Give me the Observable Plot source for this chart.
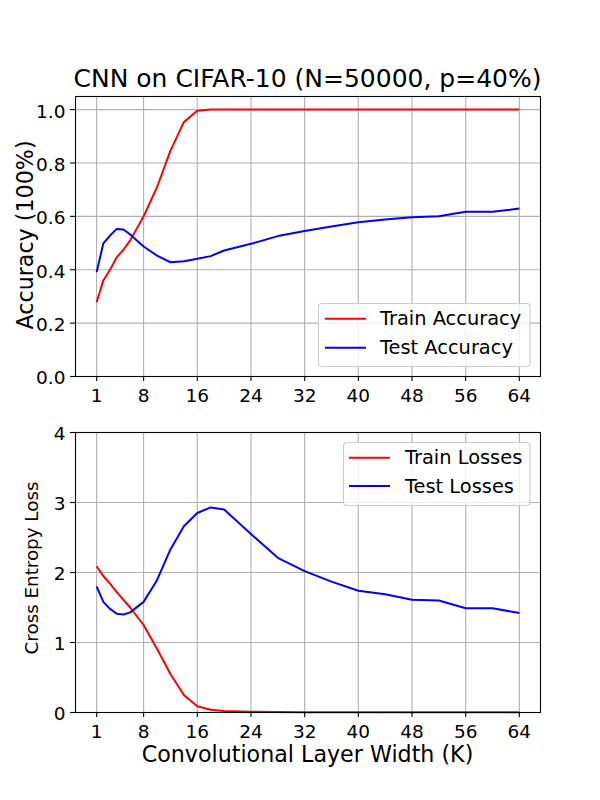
<!DOCTYPE html>
<html>
<head>
<meta charset="utf-8">
<script src="https://cdn.jsdelivr.net/npm/d3@7"></script>
<script src="https://cdn.jsdelivr.net/npm/@observablehq/plot@0.6"></script>
<style>
  html, body { margin: 0; padding: 0; background: white; }
  #wrap { position: relative; width: 600px; height: 800px; background: white; font-family: "DejaVu Sans", sans-serif; }
  #wrap > svg, #wrap > div { position: absolute; }
  #wrap svg, #wrap svg text, #wrap svg g { font-family: "DejaVu Sans", sans-serif !important; }
</style>
</head>
<body>
<div id="wrap"></div>
<script>
const widths = [1,2,3,4,5,6,8,10,12,14,16,18,20,24,28,32,36,40,44,48,52,56,60,64];
const trainAcc = [0.278,0.36,0.40,0.447,0.475,0.51,0.60,0.709,0.846,0.953,0.996,1.0,1.0,1.0,1.0,1.0,1.0,1.0,1.0,1.0,1.0,1.0,1.0,1.0];
const testAcc  = [0.391,0.499,0.528,0.553,0.551,0.532,0.487,0.453,0.428,0.432,0.441,0.451,0.472,0.497,0.526,0.545,0.562,0.578,0.588,0.597,0.600,0.617,0.617,0.629];
const trainLoss = [2.09,1.95,1.84,1.72,1.61,1.50,1.25,0.91,0.55,0.25,0.09,0.04,0.02,0.01,0.006,0.005,0.005,0.004,0.004,0.004,0.004,0.004,0.004,0.004];
const testLoss  = [1.80,1.58,1.48,1.41,1.40,1.43,1.58,1.89,2.33,2.66,2.85,2.93,2.90,2.55,2.21,2.02,1.87,1.74,1.69,1.61,1.60,1.49,1.49,1.42];
const xTicks = [1,8,16,24,32,40,48,56,64];
const accTicks = [0,0.2,0.4,0.6,0.8,1.0];
const lossTicks = [0,1,2,3,4];

const titleText = "CNN on CIFAR-10 (N=50000, p=40%)";
const xLabel = "Convolutional Layer Width (K)";
const accLabel = "Accuracy (100%)";
const lossLabel = "Cross Entropy Loss";
const accSeries = ["Train Accuracy", "Test Accuracy"];
const lossSeries = ["Train Losses", "Test Losses"];
const colors = ["#ff0000", "#0000ff"];

const accData = widths.flatMap((k, i) => [
  {k, v: trainAcc[i], s: accSeries[0]},
  {k, v: testAcc[i], s: accSeries[1]}
]);
const lossData = widths.flatMap((k, i) => [
  {k, v: trainLoss[i], s: lossSeries[0]},
  {k, v: testLoss[i], s: lossSeries[1]}
]);

const wrap = document.getElementById("wrap");
const FONT = "DejaVu Sans";
const gridStyle = {stroke: "#b0b0b0", strokeOpacity: 1, strokeWidth: 1.1};
const TICK_FS = 18.5;

function panel(data, series, yDomain, yTicks, yFmt, mTop, mBottom) {
  return Plot.plot({
    width: 600,
    height: 400,
    marginLeft: 75,
    marginRight: 60,
    marginTop: mTop,
    marginBottom: mBottom,
    style: {fontFamily: "'DejaVu Sans', sans-serif", background: "transparent", color: "black", overflow: "visible"},
    x: {domain: [-2.15, 67.15]},
    y: {domain: yDomain},
    color: {domain: series, range: colors},
    marks: [
      Plot.gridX(xTicks, gridStyle),
      Plot.gridY(yTicks, gridStyle),
      Plot.line(data, {x: "k", y: "v", z: "s", stroke: "s", strokeWidth: 2, strokeLinejoin: "round", strokeLinecap: "butt"}),
      Plot.frame({stroke: "black", strokeWidth: 1.1}),
      Plot.axisX({ticks: xTicks, tickSize: 5, tickPadding: 7, fontSize: TICK_FS, label: null, strokeWidth: 1.1}),
      Plot.axisY({ticks: yTicks, tickSize: 5, text: null, label: null, strokeWidth: 1.1}),
      Plot.axisY({ticks: yTicks, tickSize: 0, tickPadding: 10, fontSize: TICK_FS, label: null, tickFormat: yFmt, dy: 2})
    ]
  });
}

const topPanel = panel(accData, accSeries, [0, 1.049], accTicks, d3.format(".1f"), 96, 24);
topPanel.style.left = "0px"; topPanel.style.top = "0px";
wrap.appendChild(topPanel);

const botPanel = panel(lossData, lossSeries, [0, 4], lossTicks, d3.format("d"), 32, 88);
botPanel.style.left = "0px"; botPanel.style.top = "400px";
wrap.appendChild(botPanel);

// Text overlay
const ns = "http://www.w3.org/2000/svg";
const ov = document.createElementNS(ns, "svg");
ov.setAttribute("width", 600); ov.setAttribute("height", 800);
ov.style.left = "0px"; ov.style.top = "0px"; ov.style.pointerEvents = "none";
ov.setAttribute("font-family", FONT);
function txt(str, x, y, size, rot, anchor = "middle", baseline = "auto") {
  const t = document.createElementNS(ns, "text");
  t.textContent = str;
  t.setAttribute("x", x); t.setAttribute("y", y);
  t.setAttribute("font-size", size);
  t.setAttribute("text-anchor", anchor);
  if (baseline !== "auto") t.setAttribute("dominant-baseline", baseline);
  if (rot) t.setAttribute("transform", `rotate(${rot},${x},${y})`);
  t.setAttribute("fill", "black");
  ov.appendChild(t);
}
txt(titleText, 307.5, 87, 25);
txt(accLabel, 33, 235, 22.2, -90);
txt(lossLabel, 37.5, 568, 18.3, -90);
txt(xLabel, 307.5, 762, 22.2);

function legend(names, box, lineX, rowsY, textX) {
  const r = document.createElementNS(ns, "rect");
  r.setAttribute("x", box[0]); r.setAttribute("y", box[1]);
  r.setAttribute("width", box[2]); r.setAttribute("height", box[3]);
  r.setAttribute("rx", 3.5);
  r.setAttribute("fill", "white"); r.setAttribute("fill-opacity", 0.8);
  r.setAttribute("stroke", "#cccccc"); r.setAttribute("stroke-width", 1.1);
  ov.appendChild(r);
  names.forEach((n, i) => {
    const l = document.createElementNS(ns, "line");
    l.setAttribute("x1", lineX[0]); l.setAttribute("x2", lineX[1]);
    l.setAttribute("y1", rowsY[i]); l.setAttribute("y2", rowsY[i]);
    l.setAttribute("stroke", colors[i]); l.setAttribute("stroke-width", 2);
    ov.appendChild(l);
    txt(n, textX, rowsY[i], 19.4, 0, "start", "central");
  });
}
legend(accSeries, [318.5, 303.5, 211.5, 63], [325, 366], [318.7, 347.7], 380);
legend(lossSeries, [343.5, 442.5, 186.5, 63], [349, 390], [457.7, 486], 405);

wrap.appendChild(ov);
</script>
</body>
</html>
